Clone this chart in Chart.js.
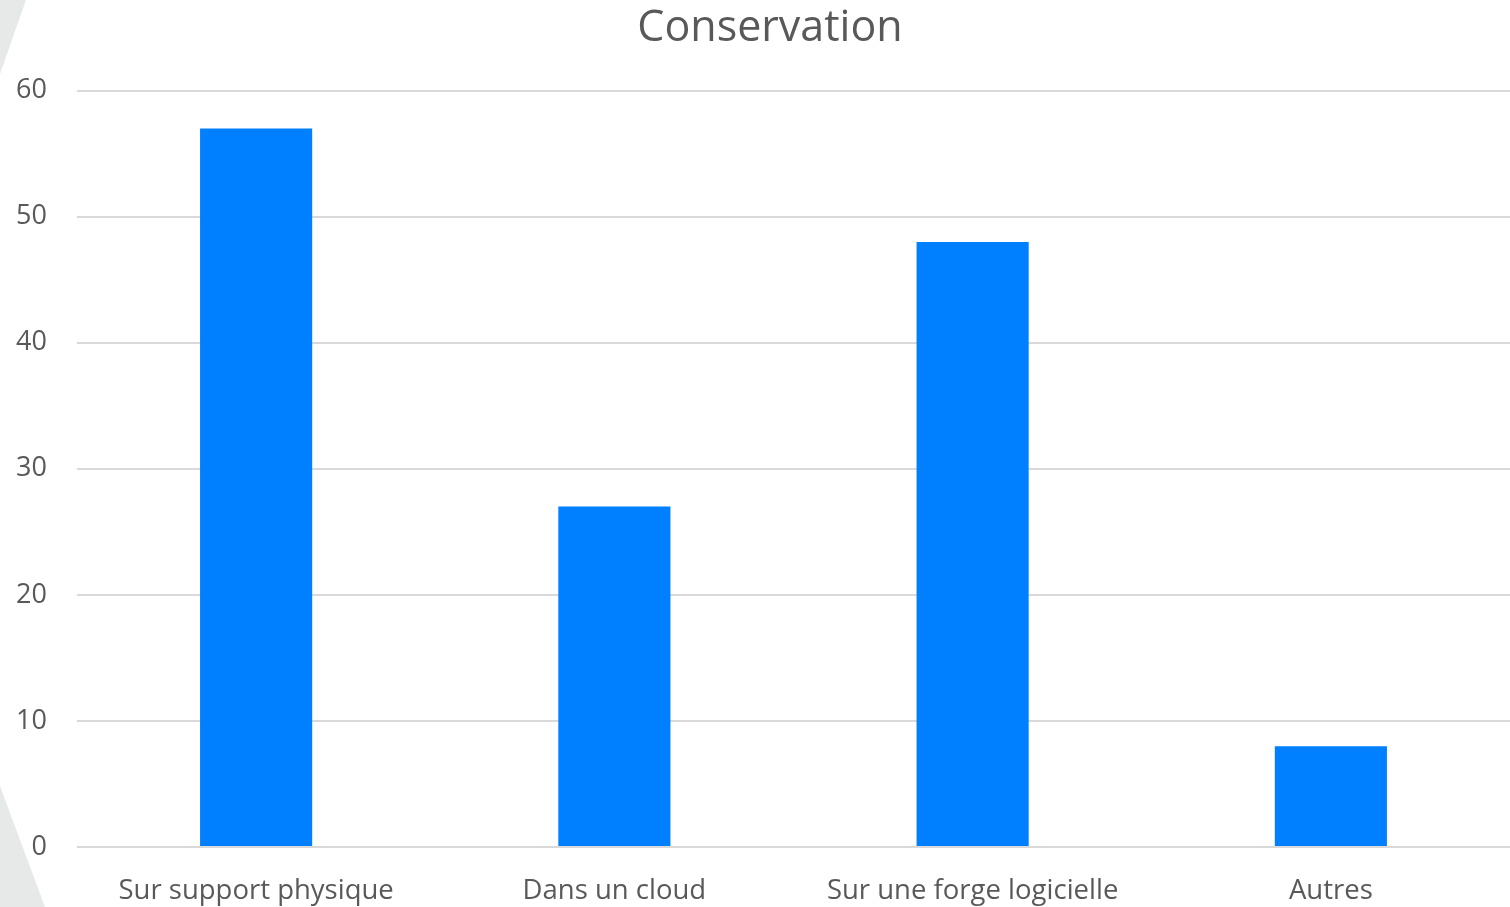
<!DOCTYPE html>
<html>
<head>
<meta charset="utf-8">
<title>Conservation</title>
<script src="https://cdn.jsdelivr.net/npm/chart.js@4"></script>
<style>
  html, body { margin: 0; padding: 0; background: #ffffff; overflow: hidden; }
  #wrap { position: relative; width: 1510px; height: 907px; }
  .deco { position: absolute; background: #e7e8e8; }
  #decoTop { left: 0; top: 0; width: 26px; height: 74px; clip-path: polygon(0 0, 100% 0, 0 100%); }
  #decoBottom { left: 0; top: 786px; width: 45px; height: 121px; clip-path: polygon(0 0, 100% 100%, 0 100%); }
  canvas { position: absolute; left: 0; top: 0; }
</style>
</head>
<body>
<div id="wrap">
  <div class="deco" id="decoTop"></div>
  <div class="deco" id="decoBottom"></div>
  <canvas id="chart" width="1510" height="907"></canvas>
</div>
<script>
const titre = "Conservation";
const categories = ["Sur support physique", "Dans un cloud", "Sur une forge logicielle", "Autres"];
const valeurs = [57, 27, 48, 8];
const ticksY = [0, 10, 20, 30, 40, 50, 60];

const gris = "#595959";
const police = "'Open Sans', sans-serif";

// décale le titre un peu à droite, comme dans l'original
const decalageTitre = {
  id: "decalageTitre",
  afterLayout(chart) {
    if (chart.titleBlock) chart.titleBlock.left = 30;
  }
};

new Chart(document.getElementById("chart"), {
  type: "bar",
  data: {
    labels: categories,
    datasets: [
      {
        data: valeurs,
        backgroundColor: "#0080ff",
        borderWidth: 0,
        barPercentage: 0.313,
        categoryPercentage: 1
      }
    ]
  },
  plugins: [decalageTitre],
  options: {
    responsive: false,
    animation: false,
    layout: { padding: 0 },
    plugins: {
      legend: { display: false },
      tooltip: { enabled: false },
      title: {
        display: true,
        text: titre,
        color: gris,
        font: { family: police, size: 43, weight: "normal" },
        padding: { top: 3, bottom: 36 }
      }
    },
    scales: {
      x: {
        grid: { display: false },
        border: { display: false },
        ticks: {
          color: gris,
          font: { family: police, size: 27.5 },
          padding: 20,
          maxRotation: 0
        },
        afterFit: (scale) => { scale.height = 60; }
      },
      y: {
        min: ticksY[0],
        max: ticksY[ticksY.length - 1],
        afterBuildTicks: (scale) => {
          scale.ticks = ticksY.map((v) => ({ value: v }));
        },
        grid: { color: "#d9d9d9", lineWidth: 2, drawTicks: false },
        border: { display: false },
        ticks: {
          color: gris,
          font: { family: police, size: 27 },
          padding: 30
        },
        afterFit: (scale) => { scale.width = 77; }
      }
    }
  }
});
</script>
</body>
</html>
